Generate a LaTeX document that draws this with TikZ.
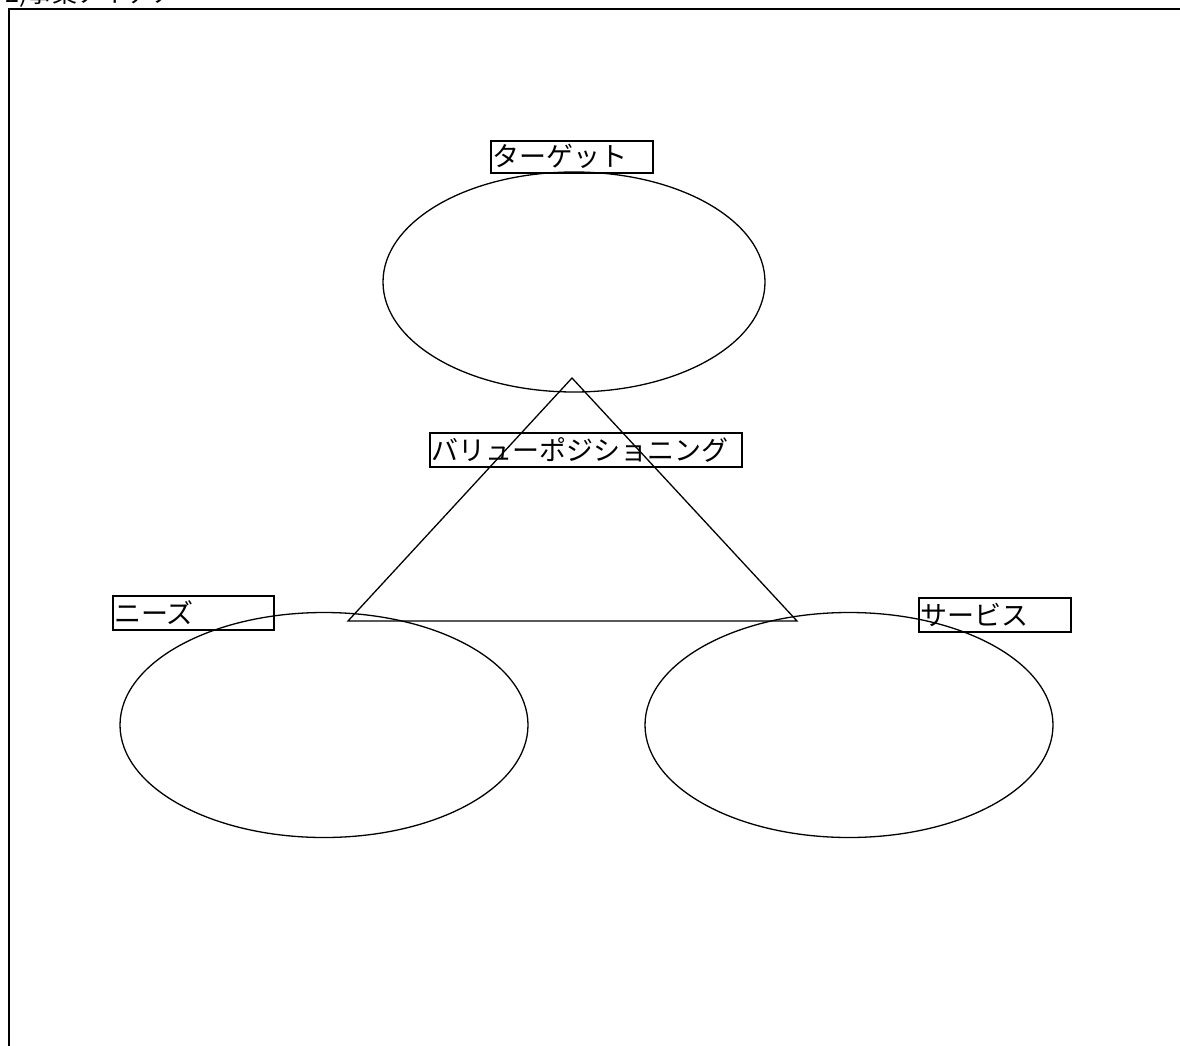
\documentclass[tikz,border=0pt]{standalone}
\usepackage{fontspec}
\setmainfont{Noto Sans CJK JP}
\usetikzlibrary{shapes.geometric}
\begin{document}
\begin{tikzpicture}[x=1pt,y=-1pt,
  lbl/.style={draw, line width=1.6pt, rectangle, anchor=north west, inner xsep=1.5pt, inner ysep=0pt,
    font=\fontsize{27}{27}\selectfont, align=left},
  oval/.style={draw, line width=1.3pt},
]
\useasboundingbox (0,0) rectangle (1180,1046);
\fill[white] (0,0) rectangle (1180,1046);
% frame
\draw[line width=2.2pt] (9,1060) -- (9,9) -- (1200,9);
% clipped title
\node[anchor=base west, inner sep=0pt, font=\fontsize{25}{25}\selectfont] (title) at (5,3) {2)事業アイデア};
% ellipses
\node[oval, ellipse, minimum width=382, minimum height=220, inner sep=0pt] (target) at (574,282) {};
\node[oval, ellipse, minimum width=408, minimum height=225, inner sep=0pt] (needs) at (324,725) {};
\node[oval, ellipse, minimum width=408, minimum height=225, inner sep=0pt] (service) at (849,725) {};
% triangle
\coordinate (apex) at (572,378);
\coordinate (tl) at (348,621);
\coordinate (tr) at (797,621);
\draw[line width=1.3pt] (apex) -- (tl) -- (tr) -- cycle;
% labels
\node[lbl, text width=159, minimum height=32] (lt) at (490,140) {ターゲット};
\node[lbl, text width=309, minimum height=34] (lv) at (429,432) {バリューポジショニング};
\node[lbl, text width=158, minimum height=34] (ln) at (112,595) {ニーズ};
\node[lbl, text width=149, minimum height=34] (ls) at (918,597) {サービス};
\end{tikzpicture}
\end{document}
